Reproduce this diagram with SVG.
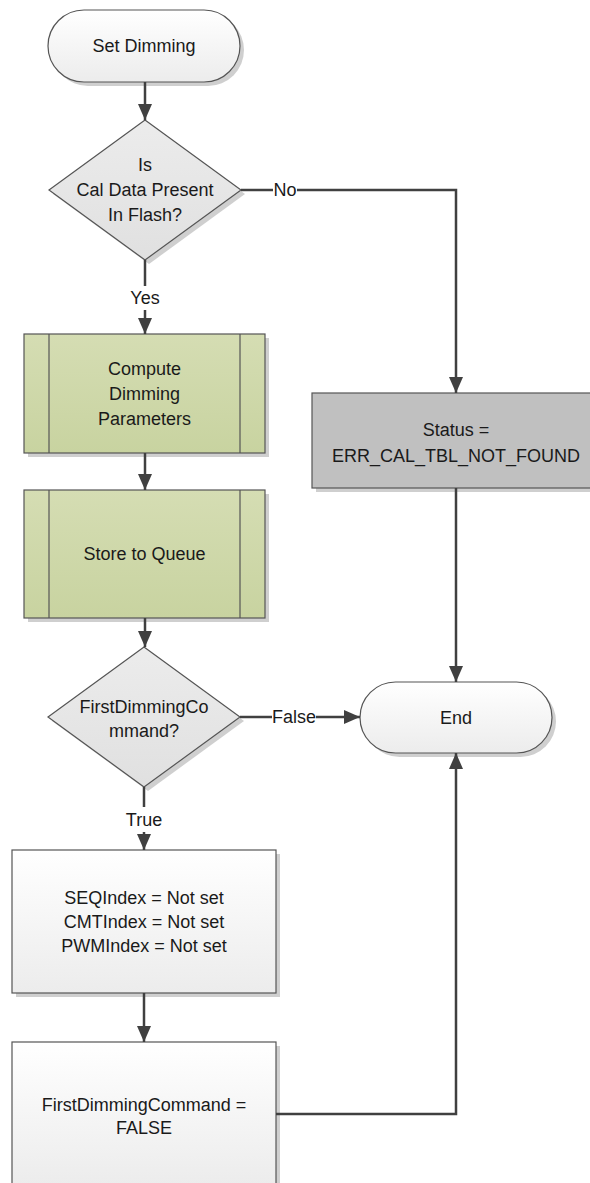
<svg xmlns="http://www.w3.org/2000/svg" width="590" height="1183" viewBox="0 0 590 1183">
<style>
.t{font-family:"Liberation Sans",Arial,sans-serif;font-size:18px;fill:#1a1a1a;text-anchor:middle}
.sh{fill:#cfcfcf;stroke:none}
.n{stroke:#555;stroke-width:1.2}
.c{fill:none;stroke:#404040;stroke-width:2.5}
</style>
<defs>
<linearGradient id="gw" x1="0" y1="0" x2="0" y2="1"><stop offset="0" stop-color="#ffffff"/><stop offset="1" stop-color="#ececec"/></linearGradient>
<linearGradient id="gg" x1="0" y1="0" x2="0" y2="1"><stop offset="0" stop-color="#d5ddb3"/><stop offset="1" stop-color="#c8d3a0"/></linearGradient>
<linearGradient id="gd" x1="0" y1="0" x2="0" y2="1"><stop offset="0" stop-color="#ececec"/><stop offset="1" stop-color="#e0e0e0"/></linearGradient>
<marker id="ah" markerUnits="userSpaceOnUse" markerWidth="16" markerHeight="14" refX="16" refY="7" orient="auto"><path d="M0,0 L16,7 L0,14 z" fill="#404040"/></marker>
</defs>
<g id="start">
<rect class="sh" x="52" y="14" width="192" height="72" rx="36"/>
<rect class="n" fill="url(#gw)" x="48" y="10" width="192" height="72" rx="36"/>
<text class="t" x="144" y="52">Set Dimming</text>
</g>
<g id="decision1">
<polygon class="sh" points="149,124 245,194 149,264 53,194"/>
<polygon class="n" fill="url(#gd)" points="145,120 241,190 145,260 49,190"/>
<text class="t" x="145" y="171">Is</text>
<text class="t" x="145" y="196">Cal Data Present</text>
<text class="t" x="145" y="221">In Flash?</text>
</g>
<g id="compute">
<rect class="sh" x="28" y="338" width="241" height="119"/>
<rect class="n" fill="url(#gg)" x="24" y="334" width="241" height="119"/>
<line class="n" x1="49" y1="334" x2="49" y2="453"/>
<line class="n" x1="240" y1="334" x2="240" y2="453"/>
<text class="t" x="144.5" y="375">Compute</text>
<text class="t" x="144.5" y="400">Dimming</text>
<text class="t" x="144.5" y="425">Parameters</text>
</g>
<g id="store">
<rect class="sh" x="28" y="494" width="241" height="128"/>
<rect class="n" fill="url(#gg)" x="24" y="490" width="241" height="128"/>
<line class="n" x1="49" y1="490" x2="49" y2="618"/>
<line class="n" x1="240" y1="490" x2="240" y2="618"/>
<text class="t" x="144.5" y="560">Store to Queue</text>
</g>
<g id="status">
<rect class="sh" x="316" y="397" width="288" height="95"/>
<rect class="n" fill="#c0c0c0" x="312" y="393" width="288" height="95"/>
<text class="t" x="456" y="436">Status =</text>
<text class="t" x="456" y="462">ERR_CAL_TBL_NOT_FOUND</text>
</g>
<g id="decision2">
<polygon class="sh" points="148,651 244,721 148,791 52,721"/>
<polygon class="n" fill="url(#gd)" points="144,647 240,717 144,787 48,717"/>
<text class="t" x="144" y="713">FirstDimmingCo</text>
<text class="t" x="144" y="737">mmand?</text>
</g>
<g id="end">
<rect class="sh" x="364" y="686" width="192" height="71" rx="35.5"/>
<rect class="n" fill="url(#gw)" x="360" y="682" width="192" height="71" rx="35.5"/>
<text class="t" x="456" y="724">End</text>
</g>
<g id="reset">
<rect class="sh" x="16" y="854" width="264" height="143"/>
<rect class="n" fill="url(#gw)" x="12" y="850" width="264" height="143"/>
<text class="t" x="144" y="904">SEQIndex = Not set</text>
<text class="t" x="144" y="928">CMTIndex = Not set</text>
<text class="t" x="144" y="952">PWMIndex = Not set</text>
</g>
<g id="setfalse">
<rect class="sh" x="16" y="1046" width="264" height="143"/>
<rect class="n" fill="url(#gw)" x="12" y="1042" width="264" height="143"/>
<text class="t" x="144" y="1111">FirstDimmingCommand =</text>
<text class="t" x="144" y="1134">FALSE</text>
</g>
<g id="connectors">
<line class="c" x1="145" y1="82" x2="145" y2="120" marker-end="url(#ah)"/>
<line class="c" x1="145" y1="260" x2="145" y2="286"/>
<text class="t" x="145" y="304">Yes</text>
<line class="c" x1="145" y1="310" x2="145" y2="334" marker-end="url(#ah)"/>
<line class="c" x1="241" y1="190" x2="273" y2="190"/>
<text class="t" x="285" y="196">No</text>
<polyline class="c" points="297,190 456,190 456,393" marker-end="url(#ah)"/>
<line class="c" x1="145" y1="453" x2="145" y2="490" marker-end="url(#ah)"/>
<line class="c" x1="145" y1="618" x2="145" y2="647" marker-end="url(#ah)"/>
<line class="c" x1="240" y1="717" x2="272" y2="717"/>
<text class="t" x="294" y="723">False</text>
<line class="c" x1="316" y1="717" x2="360" y2="717" marker-end="url(#ah)"/>
<line class="c" x1="144" y1="787" x2="144" y2="807"/>
<text class="t" x="144" y="826">True</text>
<line class="c" x1="144" y1="832" x2="144" y2="850" marker-end="url(#ah)"/>
<line class="c" x1="144" y1="993" x2="144" y2="1042" marker-end="url(#ah)"/>
<line class="c" x1="456" y1="488" x2="456" y2="682" marker-end="url(#ah)"/>
<polyline class="c" points="276,1114 456,1114 456,753" marker-end="url(#ah)"/>
</g>
</svg>
